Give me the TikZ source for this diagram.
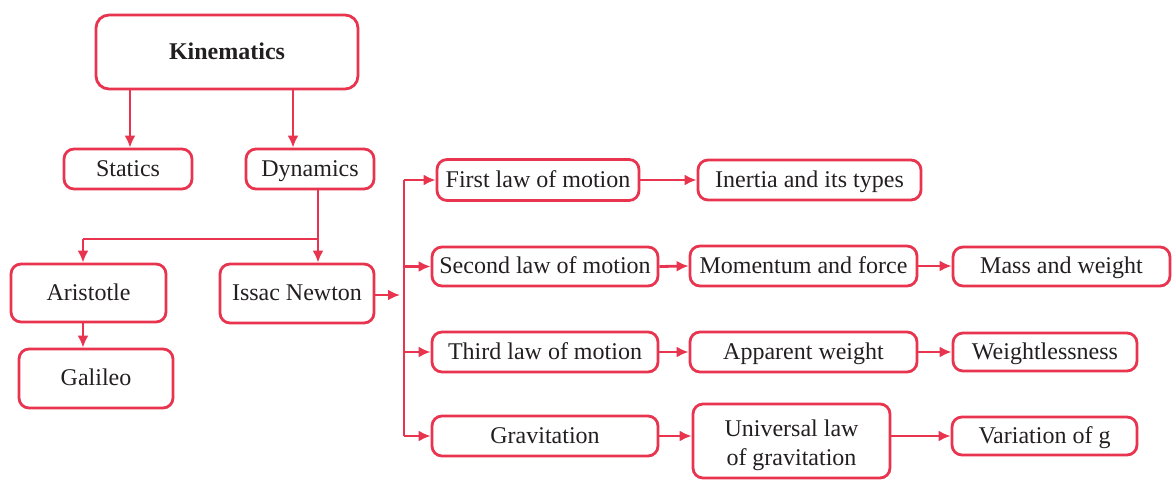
\documentclass[tikz,border=0pt]{standalone}
\usepackage{fontspec}
\setmainfont{Liberation Serif}
\usetikzlibrary{arrows.meta}
\definecolor{cred}{RGB}{232,52,78}
\definecolor{ctext}{RGB}{35,31,32}
\begin{document}
\begin{tikzpicture}[x=1pt,y=-1pt,
  box/.style={draw=cred,line width=2.8pt,rounded corners=10pt,inner sep=0pt,
    text=ctext,font=\fontsize{24}{29}\selectfont,align=center,
    text height=16pt,text depth=1.5pt},
  conn/.style={draw=cred,line width=2.8pt},
  arr/.style={conn,-{Latex[length=12pt,width=11pt]}}]
\useasboundingbox (0,0) rectangle (1172,479);
% nodes
\node[box,rounded corners=13pt,minimum width=262pt,minimum height=74pt,font=\fontsize{24}{29}\selectfont\bfseries] (kin) at (227,52) {Kinematics};
\node[box,minimum width=128pt,minimum height=40pt] (sta) at (128,169) {Statics};
\node[box,minimum width=128pt,minimum height=40pt] (dyn) at (310,169) {Dynamics};
\node[box,minimum width=155pt,minimum height=58pt] (ari) at (88.5,293) {Aristotle};
\node[box,minimum width=154pt,minimum height=59pt] (new) at (297,293.5) {Issac Newton};
\node[box,minimum width=154pt,minimum height=59pt] (gal) at (96,378.5) {Galileo};
\node[box,minimum width=202pt,minimum height=41pt] (fl) at (538,180) {First law of motion};
\node[box,minimum width=226pt,minimum height=39pt] (sl) at (545,266.5) {Second law of motion};
\node[box,minimum width=226pt,minimum height=40pt] (tl) at (545,352) {Third law of motion};
\node[box,minimum width=226pt,minimum height=40pt] (gr) at (545,436) {Gravitation};
\node[box,minimum width=223pt,minimum height=40pt] (in) at (809.5,180) {Inertia and its types};
\node[box,minimum width=227pt,minimum height=40pt] (mo) at (803.5,266) {Momentum and force};
\node[box,minimum width=217pt,minimum height=39pt] (ma) at (1061.5,266.5) {Mass and weight};
\node[box,minimum width=227pt,minimum height=40pt] (ap) at (803.5,352) {Apparent weight};
\node[box,minimum width=184pt,minimum height=38pt] (wl) at (1045,352) {Weightlessness};
\node[box,minimum width=197pt,minimum height=74pt,text height=50pt,text depth=2pt] (un) at (791.5,441) {Universal law\\of gravitation};
\node[box,minimum width=185pt,minimum height=38pt] (va) at (1044.5,436) {Variation of g};
% helper coordinates
\coordinate (a1) at (130,0);
\coordinate (a2) at (293,0);
\coordinate (j1) at (318,239);
\coordinate (j2) at (83,239);
\coordinate (bus) at (404,0);
\coordinate (b0) at (400,295);
% connectors
\draw[arr] (kin.south -| a1) -- (sta.north -| a1);
\draw[arr] (kin.south -| a2) -- (dyn.north -| a2);
\draw[conn] (dyn.south -| j1) -- (j1) -- (j2);
\draw[arr] (j2) -- (ari.north -| j2);
\draw[arr] (j1) -- (new.north -| j1);
\draw[arr] (ari.south -| j2) -- (gal.north -| j2);
\draw[arr] (new.east |- b0) -- (b0);
\draw[conn] (fl.west -| bus) -- (gr.west -| bus);
\draw[arr] (fl.west -| bus) -- (fl.west);
\draw[arr] (sl.west -| bus) -- (sl.west);
\draw[arr] (tl.west -| bus) -- (tl.west);
\draw[arr] (gr.west -| bus) -- (gr.west);
\draw[arr] (fl.east) -- (in.west);
\draw[arr] (sl.east) -- (mo.west);
\draw[arr] (mo.east) -- (ma.west |- mo.east);
\draw[arr] (tl.east) -- (ap.west);
\draw[arr] (ap.east) -- (wl.west);
\draw[arr] (gr.east) -- (un.west |- gr.east);
\draw[arr] (un.east |- va.west) -- (va.west);
\end{tikzpicture}
\end{document}
